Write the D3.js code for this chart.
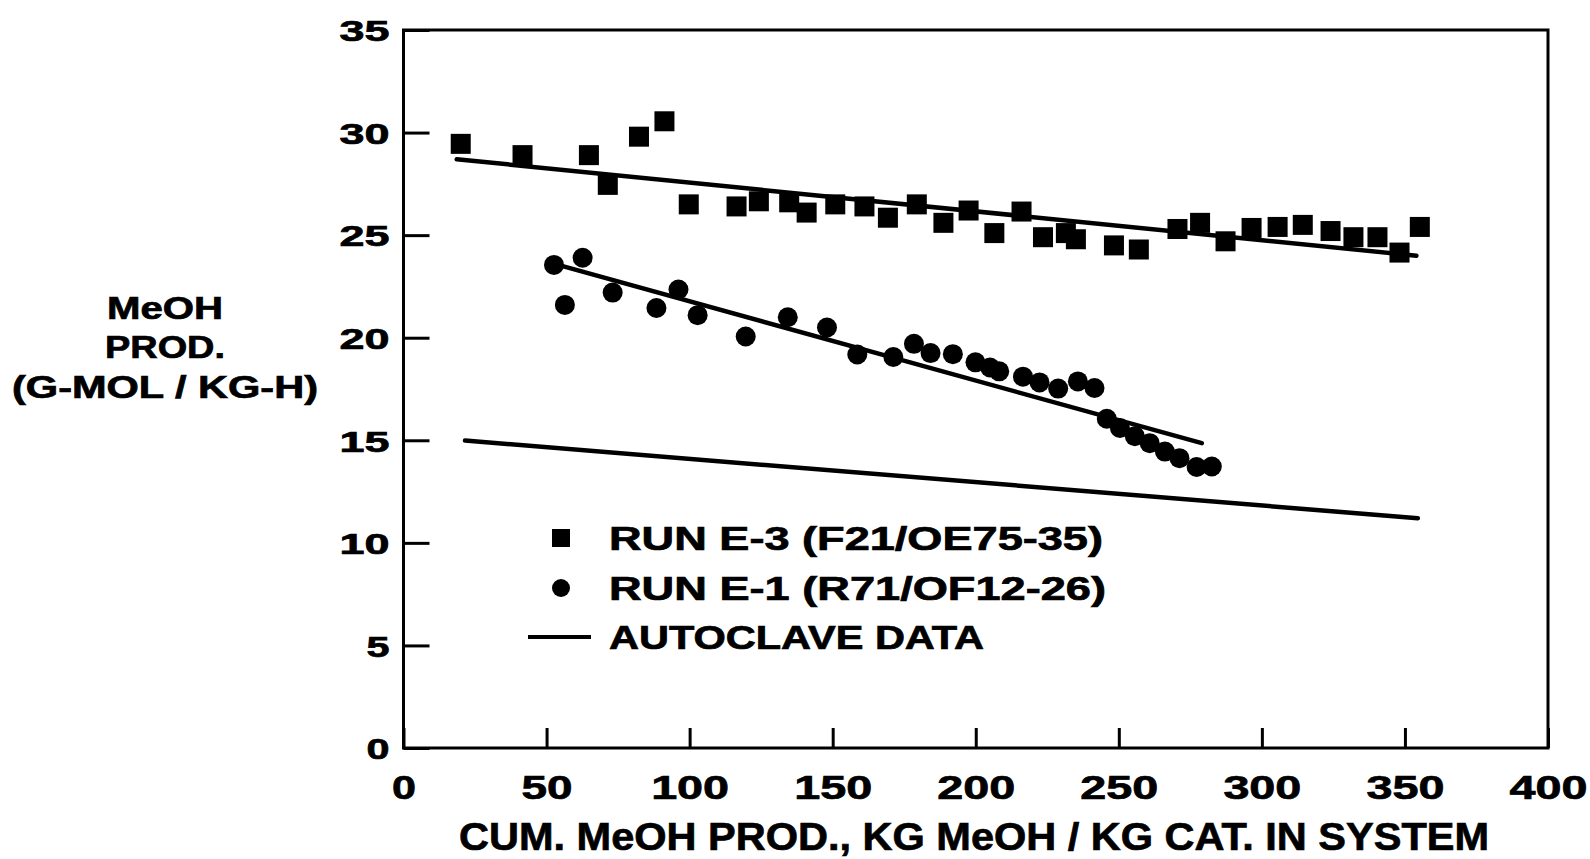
<!DOCTYPE html>
<html>
<head>
<meta charset="utf-8">
<script src="https://cdn.jsdelivr.net/npm/d3@7"></script>
<style>
  html, body { margin: 0; padding: 0; background: #fff; }
  svg { display: block; }
  text { font-family: "Liberation Sans", Arial, Helvetica, sans-serif; font-weight: bold; fill: #000; stroke: #000; stroke-width: 0.7px; }
</style>
</head>
<body>
<svg id="chart" width="1590" height="859"></svg>
<script>
// ---- Data ----
const xTicks = [0, 50, 100, 150, 200, 250, 300, 350, 400];
const yTicks = [0, 5, 10, 15, 20, 25, 30, 35];

const e3X = [20, 41.6, 64.8, 71.4, 82.3, 91.2, 99.7, 116.4, 124.2, 134.8, 140.9, 150.9, 161.1, 169.3, 179.4, 188.7, 197.5, 206.5, 216, 223.5, 231.5, 235, 248.3, 257, 270.5, 278.4, 287.3, 296.4, 305.5, 314.3, 324, 332, 340.4, 348.1, 355.2];
const e3Y = [29.45, 28.9, 28.9, 27.45, 29.8, 30.55, 26.5, 26.4, 26.65, 26.6, 26.1, 26.5, 26.4, 25.85, 26.5, 25.6, 26.2, 25.1, 26.15, 24.9, 25.1, 24.8, 24.5, 24.3, 25.3, 25.6, 24.7, 25.35, 25.4, 25.5, 25.2, 24.9, 24.9, 24.15, 25.4];

const e1X = [52.6, 56.4, 62.6, 73.1, 88.4, 96.1, 102.8, 119.6, 134.3, 148, 158.6, 171.2, 178.4, 184.2, 192, 199.9, 205, 208.2, 216.5, 222.3, 228.8, 235.7, 241.5, 245.8, 250.4, 255.6, 260.8, 266.1, 271.2, 277.2, 282.5];
const e1Y = [23.55, 21.6, 23.9, 22.2, 21.45, 22.35, 21.1, 20.06, 21.0, 20.5, 19.18, 19.06, 19.7, 19.25, 19.2, 18.8, 18.55, 18.36, 18.1, 17.82, 17.52, 17.87, 17.55, 16.05, 15.6, 15.2, 14.86, 14.45, 14.13, 13.7, 13.72];

// fitted lines (end points)
const fitE3 = [[18.6, 28.7], [354, 24.0]];
const fitE1 = [[55.3, 23.5], [279, 14.86]];
const autoclave = [[21.5, 14.99], [354.5, 11.2]];

const legendLabels = ["RUN E-3 (F21/OE75-35)", "RUN E-1 (R71/OF12-26)", "AUTOCLAVE DATA"];
const yTitleLines = ["MeOH", "PROD.", "(G-MOL / KG-H)"];
const xTitle = "CUM. MeOH PROD., KG MeOH / KG CAT. IN SYSTEM";

// ---- Layout ----
const svg = d3.select("#chart");
const x = d3.scaleLinear().domain([0, 400]).range([403.5, 1548]);
const y = d3.scaleLinear().domain([0, 35]).range([748, 30]);

// frame
svg.append("rect")
  .attr("x", x(0)).attr("y", y(35))
  .attr("width", x(400) - x(0)).attr("height", y(0) - y(35))
  .attr("fill", "none").attr("stroke", "#000").attr("stroke-width", 3);

// y axis
const yAxis = svg.append("g")
  .attr("transform", `translate(${x(0)},0)`)
  .call(d3.axisLeft(y).tickValues(yTicks).tickSizeInner(-26).tickSizeOuter(0).tickPadding(14));
yAxis.select(".domain").remove();
yAxis.selectAll(".tick line").attr("stroke", "#000").attr("stroke-width", 3);
yAxis.selectAll(".tick text")
  .attr("font-size", 30)
  .attr("font-family", "Liberation Sans, Arial, sans-serif")
  .attr("font-weight", "bold")
  .attr("dy", "0.36em")
  .attr("textLength", d => String(d).length === 1 ? 23 : 50)
  .attr("lengthAdjust", "spacingAndGlyphs");

// x axis
const xAxis = svg.append("g")
  .attr("transform", `translate(0,${y(0)})`)
  .call(d3.axisBottom(x).tickValues(xTicks).tickSizeInner(-20).tickSizeOuter(0).tickPadding(27));
xAxis.select(".domain").remove();
xAxis.selectAll(".tick line").attr("stroke", "#000").attr("stroke-width", 3);
xAxis.selectAll(".tick text")
  .attr("font-size", 34)
  .attr("font-family", "Liberation Sans, Arial, sans-serif")
  .attr("font-weight", "bold")
  .attr("textLength", d => String(d).length * 27 - 3)
  .attr("lengthAdjust", "spacingAndGlyphs");

// lines
const line = d3.line().x(d => x(d[0])).y(d => y(d[1]));
[fitE3, fitE1, autoclave].forEach(pts => {
  svg.append("path").attr("d", line(pts))
    .attr("fill", "none").attr("stroke", "#000")
    .attr("stroke-width", 4.5).attr("stroke-linecap", "round");
});

// E-3 squares
const sq = 20;
svg.append("g").selectAll("rect")
  .data(e3X.map((v, i) => [v, e3Y[i]]))
  .join("rect")
  .attr("x", d => x(d[0]) - sq / 2).attr("y", d => y(d[1]) - sq / 2)
  .attr("width", sq).attr("height", sq).attr("fill", "#000");

// E-1 circles
svg.append("g").selectAll("circle")
  .data(e1X.map((v, i) => [v, e1Y[i]]))
  .join("circle")
  .attr("cx", d => x(d[0])).attr("cy", d => y(d[1]))
  .attr("r", 10).attr("fill", "#000");

// legend
const legRowY = [538, 588, 637];
const legTextW = [494, 497, 375];
const lg = svg.append("g");
lg.append("rect").attr("x", 561 - 9).attr("y", legRowY[0] - 9).attr("width", 18).attr("height", 18).attr("fill", "#000");
lg.append("circle").attr("cx", 561).attr("cy", legRowY[1]).attr("r", 9).attr("fill", "#000");
lg.append("line").attr("x1", 528).attr("x2", 591).attr("y1", legRowY[2]).attr("y2", legRowY[2])
  .attr("stroke", "#000").attr("stroke-width", 4);
legendLabels.forEach((t, i) => {
  lg.append("text").attr("x", 609).attr("y", legRowY[i] + 12)
    .attr("font-size", 33)
    .attr("textLength", legTextW[i]).attr("lengthAdjust", "spacingAndGlyphs")
    .text(t);
});

// y title
const yTitleBase = [319, 358, 398];
const yTitleW = [116, 120, 306];
yTitleLines.forEach((t, i) => {
  svg.append("text").attr("x", 165).attr("y", yTitleBase[i])
    .attr("text-anchor", "middle").attr("font-size", 31)
    .attr("textLength", yTitleW[i]).attr("lengthAdjust", "spacingAndGlyphs")
    .text(t);
});

// x title
svg.append("text").attr("x", 974).attr("y", 850)
  .attr("text-anchor", "middle").attr("font-size", 39)
  .attr("textLength", 1030).attr("lengthAdjust", "spacingAndGlyphs")
  .text(xTitle);
</script>
</body>
</html>
